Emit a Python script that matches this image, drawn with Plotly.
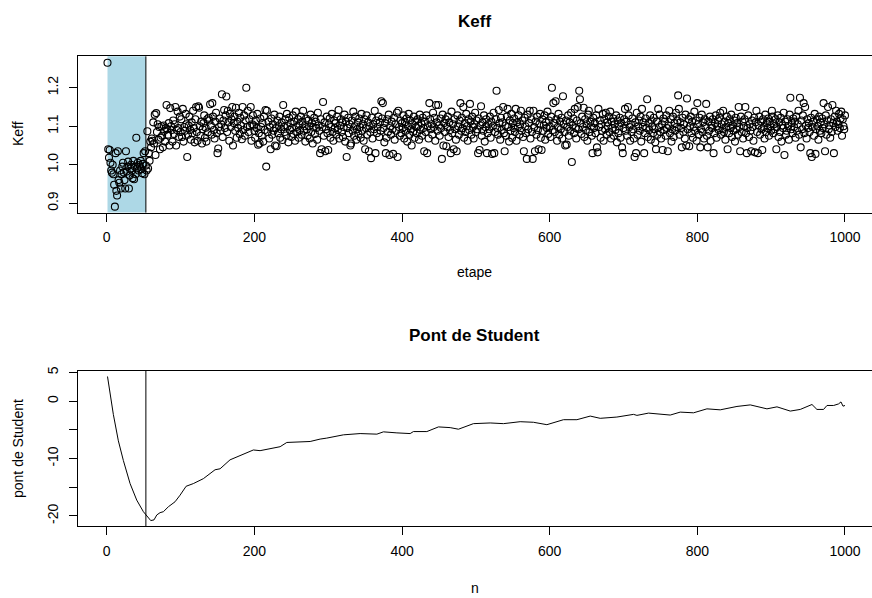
import plotly.graph_objects as go

keff = [
1.265, 1.040, 1.018, 1.038, 1.005, 0.985, 0.979, 1.000, 0.975, 0.948,
0.891, 1.030, 0.932, 0.920, 1.035, 0.960, 0.953, 0.985, 0.938, 0.975,
0.995, 1.005, 0.980, 0.960, 0.938, 1.035, 0.982, 0.995, 1.008, 0.938,
0.972, 0.990, 1.000, 0.985, 0.965, 1.010, 0.962, 0.995, 0.975, 1.070,
0.990, 1.005, 0.985, 1.000, 0.995, 1.010, 0.988, 0.978, 1.002, 1.030,
0.975, 1.035, 0.998, 0.985, 1.087, 0.990, 1.030, 1.010, 1.060, 1.045,
1.068, 1.062, 1.110, 1.055, 1.130, 1.025, 1.134, 1.085, 1.105, 1.065,
1.098, 1.040, 1.070, 1.100, 1.075, 1.045, 1.102, 1.088, 1.060, 1.095,
1.155, 1.092, 1.078, 1.108, 1.050, 1.147, 1.100, 1.090, 1.060, 1.115,
1.080, 1.105, 1.150, 1.050, 1.090, 1.138, 1.095, 1.072, 1.125, 1.085,
1.118, 1.072, 1.145, 1.060, 1.098, 1.088, 1.132, 1.105, 1.020, 1.078,
1.102, 1.125, 1.090, 1.065, 1.110, 1.082, 1.140, 1.095, 1.058, 1.118,
1.150, 1.085, 1.062, 1.152, 1.148, 1.100, 1.075, 1.112, 1.055, 1.092,
1.108, 1.128, 1.070, 1.096, 1.060, 1.118, 1.084, 1.122, 1.115, 1.157,
1.102, 1.078, 1.160, 1.125, 1.090, 1.068, 1.112, 1.135, 1.082, 1.030,
1.042, 1.098, 1.120, 1.088, 1.105, 1.183, 1.072, 1.115, 1.142, 1.095,
1.128, 1.177, 1.085, 1.140, 1.110, 1.062, 1.132, 1.098, 1.118, 1.150,
1.050, 1.108, 1.125, 1.088, 1.148, 1.070, 1.112, 1.095, 1.135, 1.080,
1.122, 1.102, 1.066, 1.150, 1.090, 1.128, 1.075, 1.115, 1.200, 1.098,
1.140, 1.085, 1.118, 1.100, 1.150, 1.062, 1.105, 1.128, 1.102, 1.088,
1.070, 1.115, 1.095, 1.132, 1.052, 1.082, 1.055, 1.120, 1.098, 1.075,
1.108, 1.060, 1.125, 1.090, 1.142, 0.995, 1.140, 1.085, 1.112, 1.068,
1.098, 1.040, 1.120, 1.078, 1.105, 1.088, 1.130, 1.050, 1.095, 1.048,
1.115, 1.082, 1.102, 1.125, 1.070, 1.092, 1.110, 1.064, 1.155, 1.098,
1.085, 1.118, 1.076, 1.132, 1.100, 1.058, 1.122, 1.090, 1.108, 1.072,
1.095, 1.128, 1.080, 1.112, 1.062, 1.138, 1.098, 1.085, 1.118, 1.070,
1.105, 1.090, 1.125, 1.078, 1.112, 1.140, 1.088, 1.100, 1.060, 1.120,
1.092, 1.075, 1.115, 1.100, 1.068, 1.130, 1.085, 1.108, 1.055, 1.098,
1.122, 1.080, 1.112, 1.095, 1.065, 1.135, 1.102, 1.088, 1.030, 1.118,
1.040, 1.098, 1.163, 1.075, 1.110, 1.035, 1.092, 1.125, 1.082, 1.038,
1.105, 1.120, 1.070, 1.098, 1.132, 1.085, 1.062, 1.115, 1.095, 1.108,
1.078, 1.125, 1.090, 1.142, 1.068, 1.102, 1.118, 1.085, 1.110, 1.072,
1.098, 1.130, 1.060, 1.112, 1.020, 1.095, 1.122, 1.082, 1.105, 1.050,
1.055, 1.115, 1.088, 1.138, 1.075, 1.100, 1.125, 1.065, 1.092, 1.110,
1.080, 1.120, 1.098, 1.070, 1.132, 1.088, 1.105, 1.062, 1.118, 1.040,
1.095, 1.128, 1.078, 1.110, 1.035, 1.100, 1.085, 1.017, 1.122, 1.068,
1.105, 1.092, 1.140, 1.030, 1.115, 1.082, 1.098, 1.125, 1.072, 1.110,
1.088, 1.165, 1.120, 1.160, 1.095, 1.058, 1.108, 1.030, 1.070, 1.118,
1.085, 1.130, 1.025, 1.100, 1.078, 1.112, 1.092, 1.028, 1.122, 1.065,
1.105, 1.088, 1.135, 1.020, 1.140, 1.098, 1.075, 1.115, 1.082, 1.108,
1.095, 1.128, 1.068, 1.110, 1.088, 1.120, 1.060, 1.100, 1.132, 1.078,
1.115, 1.092, 1.050, 1.105, 1.085, 1.125, 1.070, 1.112, 1.098, 1.082,
1.118, 1.102, 1.065, 1.130, 1.090, 1.108, 1.075, 1.122, 1.095, 1.035,
1.112, 1.085, 1.128, 1.030, 1.100, 1.068, 1.160, 1.118, 1.092, 1.105,
1.078, 1.135, 1.098, 1.122, 1.062, 1.155, 1.110, 1.088, 1.155, 1.102,
1.075, 1.120, 1.095, 1.015, 1.130, 1.050, 1.108, 1.085, 1.118, 1.048,
1.098, 1.125, 1.072, 1.110, 1.090, 1.030, 1.138, 1.082, 1.105, 1.040,
1.118, 1.092, 1.065, 1.035, 1.128, 1.100, 1.078, 1.115, 1.160, 1.088,
1.122, 1.095, 1.150, 1.070, 1.108, 1.085, 1.132, 1.100, 1.062, 1.118,
1.090, 1.158, 1.112, 1.078, 1.125, 1.098, 1.068, 1.105, 1.135, 1.085,
1.115, 1.092, 1.030, 1.120, 1.038, 1.102, 1.152, 1.075, 1.110, 1.088,
1.128, 1.060, 1.098, 1.118, 1.030, 1.082, 1.105, 1.092, 1.125, 1.070,
1.112, 1.028, 1.100, 1.135, 1.030, 1.085, 1.118, 1.192, 1.095, 1.078,
1.142, 1.108, 1.065, 1.122, 1.090, 1.110, 1.150, 1.082, 1.035, 1.102,
1.075, 1.125, 1.145, 1.098, 1.060, 1.115, 1.088, 1.132, 1.070, 1.108,
1.095, 1.120, 1.085, 1.145, 1.062, 1.110, 1.098, 1.128, 1.078, 1.105,
1.140, 1.088, 1.115, 1.072, 1.035, 1.122, 1.100, 1.082, 1.015, 1.130,
1.092, 1.108, 1.140, 1.068, 1.118, 1.085, 1.015, 1.140, 1.098, 1.035,
1.112, 1.078, 1.125, 1.090, 1.040, 1.105, 1.132, 1.070, 1.038, 1.118,
1.088, 1.102, 1.128, 1.065, 1.110, 1.095, 1.138, 1.080, 1.115, 1.100,
1.072, 1.125, 1.200, 1.090, 1.160, 1.108, 1.085, 1.165, 1.118, 1.062,
1.098, 1.132, 1.078, 1.112, 1.092, 1.122, 1.068, 1.178, 1.105, 1.085,
1.050, 1.115, 1.052, 1.098, 1.128, 1.075, 1.110, 1.088, 1.135, 1.007,
1.102, 1.120, 1.082, 1.145, 1.095, 1.068, 1.115, 1.150, 1.092, 1.192,
1.170, 1.108, 1.080, 1.125, 1.098, 1.148, 1.072, 1.118, 1.090, 1.105,
1.062, 1.130, 1.140, 1.085, 1.112, 1.100, 1.075, 1.030, 1.122, 1.095,
1.108, 1.082, 1.128, 1.045, 1.032, 1.145, 1.098, 1.115, 1.070, 1.105,
1.088, 1.132, 1.062, 1.118, 1.092, 1.135, 1.078, 1.110, 1.100, 1.125,
1.085, 1.138, 1.068, 1.112, 1.095, 1.120, 1.075, 1.105, 1.090, 1.128,
1.058, 1.115, 1.082, 1.100, 1.122, 1.070, 1.108, 1.045, 1.030, 1.095,
1.118, 1.145, 1.088, 1.112, 1.075, 1.150, 1.128, 1.098, 1.062, 1.105,
1.085, 1.120, 1.092, 1.068, 1.020, 1.110, 1.030, 1.135, 1.078, 1.100,
1.115, 1.088, 1.125, 1.060, 1.145, 1.098, 1.110, 1.030, 1.082, 1.120,
1.095, 1.170, 1.072, 1.108, 1.090, 1.128, 1.065, 1.115, 1.100, 1.082,
1.122, 1.092, 1.058, 1.040, 1.112, 1.078, 1.145, 1.098, 1.130, 1.085,
1.068, 1.105, 1.038, 1.120, 1.090, 1.112, 1.075, 1.128, 1.095, 1.035,
1.102, 1.140, 1.082, 1.118, 1.060, 1.092, 1.125, 1.072, 1.108, 1.088,
1.135, 1.098, 1.115, 1.180, 1.145, 1.078, 1.110, 1.095, 1.045, 1.122,
1.085, 1.105, 1.068, 1.130, 1.050, 1.172, 1.092, 1.118, 1.048, 1.100,
1.125, 1.082, 1.112, 1.070, 1.098, 1.138, 1.088, 1.115, 1.062, 1.160,
1.105, 1.078, 1.122, 1.045, 1.092, 1.130, 1.085, 1.110, 1.068, 1.118,
1.098, 1.158, 1.075, 1.045, 1.112, 1.088, 1.125, 1.062, 1.102, 1.095,
1.118, 1.030, 1.082, 1.108, 1.128, 1.070, 1.100, 1.115, 1.090, 1.122,
1.135, 1.078, 1.105, 1.092, 1.140, 1.085, 1.112, 1.065, 1.098, 1.125,
1.040, 1.108, 1.082, 1.118, 1.095, 1.130, 1.072, 1.102, 1.088, 1.115,
1.060, 1.122, 1.092, 1.108, 1.078, 1.150, 1.098, 1.035, 1.125, 1.085,
1.112, 1.068, 1.100, 1.118, 1.150, 1.082, 1.030, 1.095, 1.128, 1.072,
1.105, 1.088, 1.035, 1.115, 1.098, 1.062, 1.122, 1.032, 1.110, 1.140,
1.085, 1.030, 1.102, 1.125, 1.078, 1.112, 1.092, 1.038, 1.118, 1.098,
1.068, 1.130, 1.085, 1.108, 1.095, 1.120, 1.075, 1.112, 1.100, 1.088,
1.140, 1.125, 1.082, 1.105, 1.092, 1.118, 1.040, 1.098, 1.128, 1.072,
1.110, 1.085, 1.122, 1.060, 1.102, 1.095, 1.135, 1.025, 1.112, 1.078,
1.088, 1.118, 1.100, 1.065, 1.130, 1.174, 1.092, 1.108, 1.082, 1.120,
1.098, 1.112, 1.070, 1.125, 1.088, 1.105, 1.140, 1.078, 1.174, 1.045,
1.115, 1.092, 1.128, 1.160, 1.082, 1.150, 1.102, 1.068, 1.118, 1.095,
1.108, 1.085, 1.030, 1.122, 1.020, 1.098, 1.112, 1.075, 1.132, 1.028,
1.092, 1.118, 1.100, 1.065, 1.125, 1.088, 1.110, 1.082, 1.120, 1.095,
1.160, 1.105, 1.035, 1.128, 1.078, 1.115, 1.150, 1.092, 1.102, 1.070,
1.118, 1.085, 1.155, 1.108, 1.030, 1.125, 1.098, 1.140, 1.112, 1.088,
1.105, 1.132, 1.095, 1.120, 1.138, 1.075, 1.118, 1.100, 1.092, 1.128,
]
etape = list(range(1, len(keff) + 1))

bridge_n = [1, 4.5, 8.9, 15.7, 22.5, 31.6, 40.6, 49.6, 53.3, 56.4, 59.6, 64, 67.8, 72.2, 76.7,
            83.5, 92.5, 99.3, 107.5, 117.3, 130.9, 146.7, 153.5, 167, 180.6, 198.6, 207.7,
            221.3, 234.8, 243.9, 262, 275.5, 289, 298, 320.6, 343.2, 365.9, 374.8, 393, 411,
            415.4, 433.6, 449.3, 465.2, 476.4, 496.7, 519.4, 537.4, 560, 578, 596.2, 618.7,
            636.9, 654.9, 668.4, 691, 713.6, 718.2, 733.9, 763.3, 776.8, 794.9, 813, 831,
            853.7, 871.7, 894.3, 907.9, 925.9, 939.4, 955.3, 962, 971, 975.6, 984.6, 991.3,
            994.6, 997.3, 1000]
bridge_v = [4.31, 1.16, -2.29, -6.9, -10.34, -14.36, -17.24, -19.26, -19.83, -20.12, -20.81,
            -20.69, -19.83, -19.43, -19.26, -18.4, -17.53, -16.38, -14.83, -14.36, -13.5,
            -11.95, -11.78, -10.22, -9.48, -8.5, -8.62, -8.33, -7.93, -7.19, -7.07, -7.02,
            -6.6, -6.43, -5.86, -5.64, -5.74, -5.34, -5.52, -5.64, -5.29, -5.29, -4.48, -4.6,
            -4.88, -3.91, -3.79, -3.91, -3.57, -3.67, -4.09, -3.22, -3.22, -2.59, -2.98,
            -2.76, -2.29, -2.47, -2.07, -2.41, -1.9, -2.02, -1.33, -1.5, -0.91, -0.64, -1.33,
            -0.98, -1.72, -1.43, -0.57, -1.43, -1.43, -0.74, -0.74, -0.47, -0.12, -0.86, -0.74]

burn_start = 1
burn_end = 53

x_ticks = [0, 200, 400, 600, 800, 1000]
keff_ticks = [0.9, 1.0, 1.1, 1.2]
keff_tick_labels = ["0.9", "1.0", "1.1", "1.2"]
bridge_ticks = [5, 0, -5, -10, -15, -20]
bridge_tick_labels = ["5", "0", "", "-10", "", "-20"]

W, H = 872, 598
FONT = "Liberation Sans, Arial, Helvetica, sans-serif"

def px_x(p):
    return p / W

def px_y(p):
    return 1 - p / H

fig = go.Figure()

fig.add_trace(go.Scatter(
    x=etape, y=keff, mode="markers",
    marker=dict(symbol="circle-open", size=7, color="black", line=dict(width=1.1)),
    xaxis="x", yaxis="y", showlegend=False, hoverinfo="skip"))

fig.add_trace(go.Scatter(
    x=bridge_n, y=bridge_v, mode="lines",
    line=dict(color="black", width=1),
    xaxis="x2", yaxis="y2", showlegend=False, hoverinfo="skip"))

xrange = [-38.96, 1036.6]
axis_common = dict(showgrid=False, zeroline=False, showline=True, linecolor="black",
                   linewidth=1, ticks="outside", ticklen=8, tickcolor="black",
                   tickfont=dict(family=FONT, size=14, color="black"))

fig.update_layout(
    width=W, height=H, margin=dict(l=0, r=0, t=0, b=0),
    paper_bgcolor="white", plot_bgcolor="white",
    xaxis=dict(domain=[px_x(78), 1], range=xrange, anchor="y",
               tickvals=x_ticks, mirror=True, ticklabelstandoff=4, **axis_common),
    yaxis=dict(domain=[px_y(210), px_y(52.7)], range=[0.8755, 1.2815], anchor="x",
               tickvals=keff_ticks, ticktext=keff_tick_labels, tickangle=-90,
               ticklabelstandoff=5, **axis_common),
    xaxis2=dict(domain=[px_x(78), 1], range=xrange, anchor="y2",
                tickvals=x_ticks, mirror=True, ticklabelstandoff=4, **axis_common),
    yaxis2=dict(domain=[px_y(526), px_y(369.3)], range=[-21.84, 5.3], anchor="x2",
                tickvals=bridge_ticks, ticktext=bridge_tick_labels, tickangle=-90,
                ticklabelstandoff=5, **axis_common),
)

fig.add_shape(type="rect", xref="x", yref="y domain", x0=burn_start, x1=burn_end,
              y0=0, y1=1, fillcolor="#ADD8E6", line=dict(width=0), layer="below")
fig.add_shape(type="line", xref="x", yref="y domain", x0=burn_end, x1=burn_end,
              y0=0, y1=1, line=dict(color="black", width=1), layer="below")
fig.add_shape(type="line", xref="x2", yref="y2 domain", x0=burn_end, x1=burn_end,
              y0=0, y1=1, line=dict(color="black", width=1))

def ann(text, x, y, size=14, bold=False, angle=0):
    fig.add_annotation(text=f"<b>{text}</b>" if bold else text, xref="paper", yref="paper",
                       x=px_x(x), y=px_y(y), showarrow=False, textangle=angle,
                       font=dict(family=FONT, size=size, color="black"),
                       xanchor="center", yanchor="middle")

ann("Keff", 474.5, 18, size=17, bold=True)
ann("etape", 474.5, 270)
ann("Keff", 18, 131, angle=-90)
ann("Pont de Student", 474.5, 334, size=17, bold=True)
ann("n", 474.5, 588)
ann("pont de Student", 18, 448, angle=-90)

fig.write_html("out.html", config={"displayModeBar": False},
               post_script="document.body.style.margin='0';document.body.style.overflow='hidden';")
